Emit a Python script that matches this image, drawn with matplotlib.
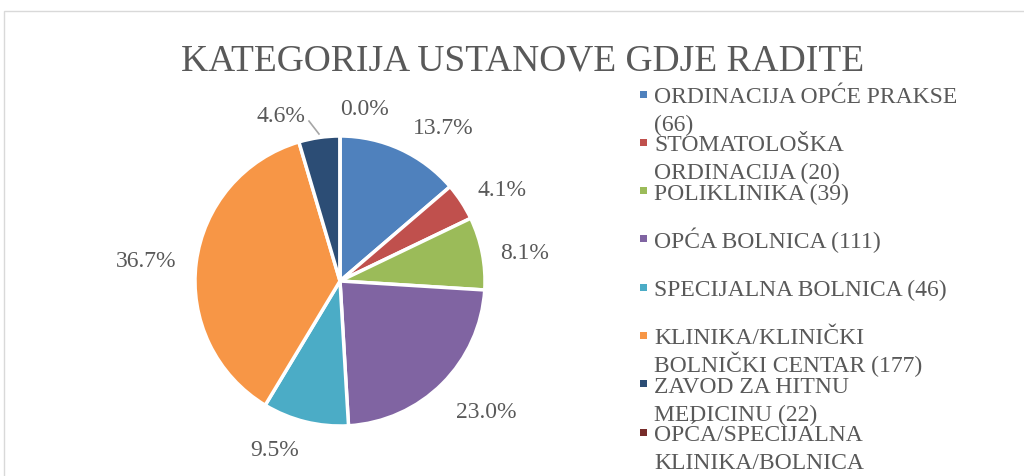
import numpy as np
import matplotlib
matplotlib.use("Agg")
import matplotlib.pyplot as plt
from matplotlib.patches import Rectangle

title = "KATEGORIJA USTANOVE GDJE RADITE"
categories = [
    "ORDINACIJA OPĆE PRAKSE\n(66)",
    "STOMATOLOŠKA\nORDINACIJA (20)",
    "POLIKLINIKA (39)",
    "OPĆA BOLNICA (111)",
    "SPECIJALNA BOLNICA (46)",
    "KLINIKA/KLINIČKI\nBOLNIČKI CENTAR (177)",
    "ZAVOD ZA HITNU\nMEDICINU (22)",
    "OPĆA/SPECIJALNA\nKLINIKA/BOLNICA",
]
counts = [66, 20, 39, 111, 46, 177, 22, 0]
pct_labels = ["13.7%", "4.1%", "8.1%", "23.0%", "9.5%", "36.7%", "4.6%", "0.0%"]
colors = ["#4F81BD", "#C0504D", "#9BBB59", "#8064A2", "#4BACC6", "#F79646", "#2C4D75", "#772C2A"]

W, H = 1024, 477
fig = plt.figure(figsize=(W / 100, H / 100), dpi=100)
fig.patch.set_facecolor("white")
font = "Liberation Serif"
tcol = "#595959"

# chart frame (cropped on right and bottom)
fig.patches.append(Rectangle((4 / W, -0.1), 1.2, 1.1 - 12 / H, transform=fig.transFigure,
                             fill=False, edgecolor="#D9D9D9", linewidth=1.0))

# pie axes: centre (340,282) px, radius 145 px, limits +-1.6
R = 145
lim = 1.6
side = 2 * lim * R
cx, cy = 340, H - 282
ax = fig.add_axes([(cx - side / 2) / W, (cy - side / 2) / H, side / W, side / H])
wedges, _ = ax.pie(counts, colors=colors, startangle=90, counterclock=False,
                   wedgeprops=dict(edgecolor="white", linewidth=2.5))
ax.set_xlim(-lim, lim)
ax.set_ylim(-lim, lim)
ax.set_aspect("equal")
ax.axis("off")

# label placement (best-fit style): radial distance and angular shift from slice middle
label_dist = [1.289, 1.295, 1.291, 1.335, 1.225, 1.345, 1.229, 1.219]
label_shift = [-8.7, -2.9, -1.4, 4.0, -7.7, 0.4, 11.0, -8.1]
for i, (w, lab) in enumerate(zip(wedges, pct_labels)):
    ang = np.deg2rad((w.theta1 + w.theta2) / 2 + label_shift[i])
    d = label_dist[i]
    x, y = d * np.cos(ang), d * np.sin(ang) - 0.02
    ax.text(x, y, lab, ha="center", va="center", fontsize=17, family=font,
            color=tcol, clip_on=False)
    if i == 6:
        ax.plot([-0.214, -0.145], [1.103, 1.014], color="#A6A6A6", lw=1.2, clip_on=False)

# title
fig.text(523 / W, 1 - 61 / H, title, ha="center", va="center", fontsize=27,
         family=font, color=tcol)

# legend (each wrapped line placed on its own baseline, Excel-style tight pitch)
for k, (lab, c) in enumerate(zip(categories, colors)):
    yc = 95 + 48.3 * k
    fig.patches.append(Rectangle((640 / W, 1 - (yc + 3.5) / H), 7 / W, 7 / H,
                                 transform=fig.transFigure, facecolor=c, edgecolor="none"))
    for j, line in enumerate(lab.split("\n")):
        fig.text(654 / W, 1 - (yc + 8 + 28 * j) / H, line, ha="left", va="baseline",
                 fontsize=17, family=font, color=tcol)

fig.savefig("out.png", dpi=100)
